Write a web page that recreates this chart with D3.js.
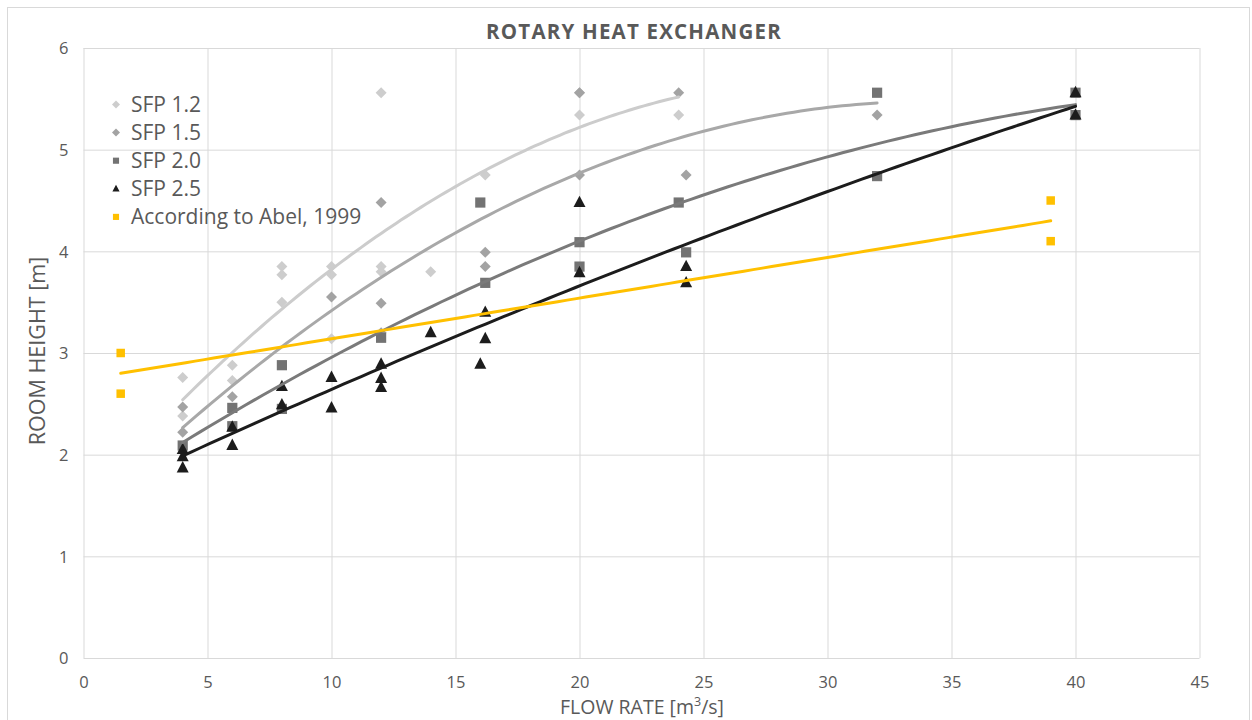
<!DOCTYPE html>
<html><head><meta charset="utf-8">
<script src="https://cdn.jsdelivr.net/npm/d3@7"></script>
<style>
body{margin:0;background:#fff;}
text{font-family:"Open Sans",sans-serif;fill:#595959;}
</style></head>
<body><svg id="c" width="1252" height="720"></svg>
<script>
// ---- data ----
const sfp12 = [[4,2.76],[4,2.38],[6,2.88],[6,2.73],[8,3.85],[8,3.77],[8,3.5],[10,3.85],[10,3.77],[10,3.14],[12,5.56],[12,3.85],[12,3.8],[14,3.8],[16.2,4.75],[20,5.56],[20,5.34],[24,5.34]];
const sfp15 = [[4,2.47],[4,2.22],[6,2.57],[10,3.55],[12,4.48],[12,3.49],[12,3.2],[16.2,3.99],[16.2,3.85],[20,5.56],[20,4.75],[24,5.56],[24.3,4.75],[32,5.34]];
const sfp20 = [[4,2.09],[6,2.46],[6,2.28],[8,2.88],[8,2.45],[12,3.15],[16,4.48],[16.2,3.69],[20,4.09],[20,3.85],[24,4.48],[24.3,3.99],[32,5.56],[32,4.74],[40,5.56],[40,5.34]];
const sfp25 = [[4,2.05],[4,1.98],[4,1.87],[6,2.27],[6,2.09],[8,2.67],[8,2.49],[10,2.76],[10,2.46],[12,2.89],[12,2.75],[12,2.66],[14,3.2],[16,2.89],[16.2,3.4],[16.2,3.14],[20,4.48],[20,3.79],[24.3,3.85],[24.3,3.69],[40,5.56],[40,5.34]];
const abel = [[1.5,3.0],[1.5,2.6],[39,4.5],[39,4.1]];
const seriesNames = ["SFP 1.2","SFP 1.5","SFP 2.0","SFP 2.5","According to Abel, 1999"];
const xTicks = [0,5,10,15,20,25,30,35,40,45];
const yTicks = [0,1,2,3,4,5,6];
const titleText = "ROTARY HEAT EXCHANGER";
const yTitle = "ROOM HEIGHT [m]";

// ---- styles ----
const series = [
  {name:seriesNames[0], data:sfp12, shape:"diamond", fill:"#cdcdcd", line:"#cccccc", order:2},
  {name:seriesNames[1], data:sfp15, shape:"diamond", fill:"#a3a3a3", line:"#a8a8a8", order:2},
  {name:seriesNames[2], data:sfp20, shape:"square", fill:"#737373", line:"#7a7a7a", order:2},
  {name:seriesNames[3], data:sfp25, shape:"triangle", fill:"#1c1c1c", line:"#1c1c1c", order:2},
  {name:seriesNames[4], data:abel, shape:"square", fill:"#ffc000", line:"#ffc000", order:1, small:true}
];

const svg = d3.select("#c");
const M = {l:83.5, r:1199.5, t:48, b:658};
const x = d3.scaleLinear().domain([0,45]).range([M.l,M.r]);
const y = d3.scaleLinear().domain([0,6]).range([M.b,M.t]);

// outer border
svg.append("rect").attr("x",7.5).attr("y",7.5).attr("width",1242).attr("height",730)
  .attr("fill","none").attr("stroke","#d9d9d9");

// gridlines
const gx = svg.append("g").attr("transform",`translate(0,${M.b})`)
  .call(d3.axisBottom(x).tickValues(xTicks).tickSize(-(M.b-M.t)).tickFormat(d3.format("d")));
gx.select(".domain").remove();
gx.selectAll("line").attr("stroke","#d9d9d9");
gx.selectAll("text").attr("dy","0").attr("y",30).style("font-size","16.5px").attr("fill","#595959");

const gy = svg.append("g").attr("transform",`translate(${M.l},0)`)
  .call(d3.axisLeft(y).tickValues(yTicks).tickSize(-(M.r-M.l)).tickFormat(d3.format("d")));
gy.select(".domain").remove();
gy.selectAll("line").attr("stroke","#d9d9d9");
gy.selectAll("text").attr("x",-15).attr("dy","0.36em").style("font-size","16.5px").attr("fill","#595959");

// polynomial least squares fit (Excel-style trendline)
function polyfit(pts, order){
  const n = order+1;
  const A = Array.from({length:n},()=>new Array(n+1).fill(0));
  pts.forEach(([px,py])=>{
    for(let i=0;i<n;i++){
      for(let j=0;j<n;j++) A[i][j]+=Math.pow(px,i+j);
      A[i][n]+=py*Math.pow(px,i);
    }
  });
  for(let i=0;i<n;i++){
    let m=i; for(let k=i+1;k<n;k++) if(Math.abs(A[k][i])>Math.abs(A[m][i])) m=k;
    [A[i],A[m]]=[A[m],A[i]];
    for(let k=i+1;k<n;k++){const f=A[k][i]/A[i][i]; for(let j=i;j<=n;j++) A[k][j]-=f*A[i][j];}
  }
  const c=new Array(n).fill(0);
  for(let i=n-1;i>=0;i--){let s=A[i][n]; for(let j=i+1;j<n;j++) s-=A[i][j]*c[j]; c[i]=s/A[i][i];}
  return c;
}

const plot = svg.append("g");
const line = d3.line().x(d=>x(d[0])).y(d=>y(d[1]));
series.forEach(s=>{
  const c = polyfit(s.data, s.order);
  const [x0,x1] = d3.extent(s.data, d=>d[0]);
  s.trend = d3.range(0,101).map(i=>{const xv=x0+(x1-x0)*i/100; return [xv, c.reduce((a,ci,k)=>a+ci*Math.pow(xv,k),0)];});
});

function marker(g, shape, size, fill){
  if(shape==="diamond"){
    g.append("path").attr("d",`M0,${-size}L${size},0L0,${size}L${-size},0Z`).attr("fill",fill);
  } else if(shape==="square"){
    g.append("rect").attr("x",-size*0.85).attr("y",-size*0.85).attr("width",size*1.7).attr("height",size*1.7).attr("fill",fill);
  } else {
    g.append("path").attr("d",`M0,${-size*1.15}L${size},${size*0.75}L${-size},${size*0.75}Z`).attr("fill",fill);
  }
}

series.forEach(s=>{
  const g = plot.append("g");
  s.data.forEach(d=>{
    const m = g.append("g").attr("transform",`translate(${x(d[0])},${y(d[1])})`);
    marker(m, s.shape, s.small?5:(s.shape==="diamond"?5.5:6), s.fill);
  });
});
series.forEach(s=>{
  plot.append("path").datum(s.trend).attr("d",line).attr("fill","none")
    .attr("stroke",s.line).attr("stroke-width",3).attr("stroke-linecap","round");
});

// legend
const lg = svg.append("g");
series.forEach((s,i)=>{
  const yy = 104.5 + i*28.1;
  const m = lg.append("g").attr("transform",`translate(116,${yy})`);
  marker(m, s.shape, s.shape==="diamond"?4:3.6, s.fill);
  lg.append("text").attr("x",131).attr("y",yy).attr("dy","0.36em").style("font-size","21px").text(s.name);
});

// title
svg.append("text").attr("x",634).attr("y",39).attr("text-anchor","middle")
  .style("font-size","20.5px").style("font-weight","700").style("letter-spacing","1.2px").text(titleText);

// axis titles
svg.append("text").attr("transform","translate(45,351) rotate(-90)").attr("text-anchor","middle")
  .style("font-size","21.5px").text(yTitle);
const xt = svg.append("text").attr("x",642).attr("y",714).attr("text-anchor","middle").style("font-size","19.5px");
xt.append("tspan").text("FLOW RATE [m");
xt.append("tspan").attr("dy",-8).style("font-size","12.5px").text("3");
xt.append("tspan").attr("dy",8).text("/s]");
</script></body></html>
